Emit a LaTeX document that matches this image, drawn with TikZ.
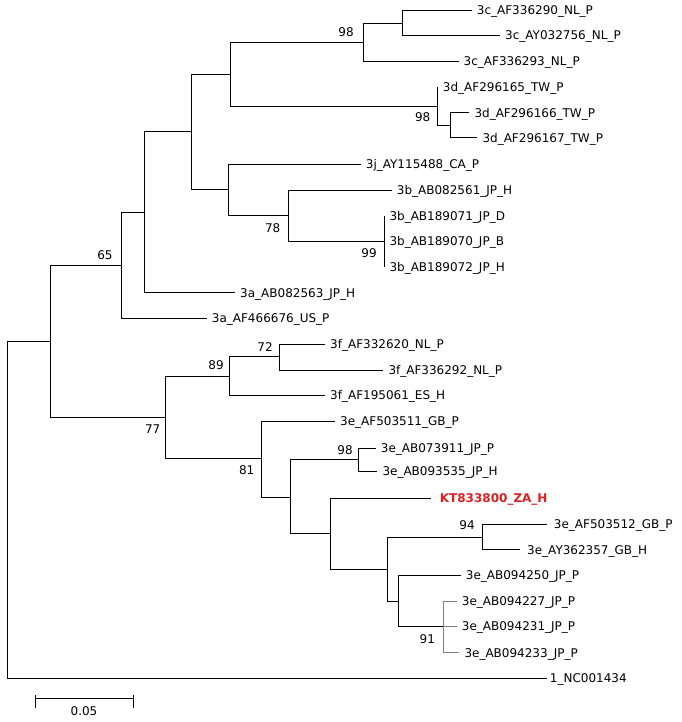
\documentclass[tikz,border=0pt]{standalone}
\usepackage{fontspec}
\setmainfont{DejaVu Sans}
\definecolor{ktred}{RGB}{222,32,36}
\begin{document}
\begin{tikzpicture}[x=1pt,y=-1pt,
  branch/.style={line width=1pt, black},
  gbranch/.style={line width=0.8pt, gray},
  leaf/.style={anchor=west, inner xsep=5pt, inner ysep=0pt, text height=8.75pt, text depth=0pt, font=\fontsize{12pt}{14pt}\selectfont},
  boot/.style={anchor=center, inner sep=0pt, text height=8.75pt, text depth=0pt, font=\fontsize{12pt}{14pt}\selectfont}]
\useasboundingbox[fill=white] (0,0) rectangle (681,722);

% leaves
\node[leaf] (L1)  at (471.7,10.5)  {3c\_AF336290\_NL\_P};
\node[leaf] (L2)  at (500,35.5)    {3c\_AY032756\_NL\_P};
\node[leaf] (L3)  at (458.5,61.3)  {3c\_AF336293\_NL\_P};
\node[leaf] (L4)  at (437.7,87)    {3d\_AF296165\_TW\_P};
\node[leaf] (L5)  at (469.3,113)   {3d\_AF296166\_TW\_P};
\node[leaf] (L6)  at (477.3,138)   {3d\_AF296167\_TW\_P};
\node[leaf] (L7)  at (360.7,164.3) {3j\_AY115488\_CA\_P};
\node[leaf] (L8)  at (391.7,190.5) {3b\_AB082561\_JP\_H};
\node[leaf] (L9)  at (384.3,215.8) {3b\_AB189071\_JP\_D};
\node[leaf] (L10) at (384.3,241.5) {3b\_AB189070\_JP\_B};
\node[leaf] (L11) at (384.3,267.3) {3b\_AB189072\_JP\_H};
\node[leaf] (L12) at (235,292.7)   {3a\_AB082563\_JP\_H};
\node[leaf] (L13) at (206.7,318)   {3a\_AF466676\_US\_P};
\node[leaf] (L14) at (325,344.3)   {3f\_AF332620\_NL\_P};
\node[leaf] (L15) at (383.3,370)   {3f\_AF336292\_NL\_P};
\node[leaf] (L16) at (325,395.3)   {3f\_AF195061\_ES\_H};
\node[leaf] (L17) at (335,421.3)   {3e\_AF503511\_GB\_P};
\node[leaf] (L18) at (375.7,448.3) {3e\_AB073911\_JP\_P};
\node[leaf] (L19) at (377.3,471)   {3e\_AB093535\_JP\_H};
\node[leaf, inner xsep=9pt, text=ktred, font=\fontsize{12pt}{14pt}\selectfont\bfseries] (L20) at (430.7,498.5) {KT833800\_ZA\_H};
\node[leaf, inner xsep=7pt] (L21) at (546.7,524.3) {3e\_AF503512\_GB\_P};
\node[leaf, inner xsep=7pt] (L22) at (520,549.7)   {3e\_AY362357\_GB\_H};
\node[leaf] (L23) at (460.7,575.3) {3e\_AB094250\_JP\_P};
\node[leaf] (L24) at (456.7,601)   {3e\_AB094227\_JP\_P};
\node[leaf] (L25) at (456.7,626.3) {3e\_AB094231\_JP\_P};
\node[leaf] (L26) at (459.3,652.7) {3e\_AB094233\_JP\_P};
\node[leaf, inner xsep=3pt] (L27) at (546.7,678.5) {1\_NC001434};

% internal nodes
\coordinate (R)    at (7.3,510);
\coordinate (ING)  at (50.3,341.3);
\coordinate (N65)  at (121.3,265.3);
\coordinate (N3)   at (144.3,212);
\coordinate (NTOP) at (191.3,131.3);
\coordinate (NCD)  at (230.3,74.3);
\coordinate (NC98) at (363.3,42.3);
\coordinate (NC2)  at (402.3,23.7);
\coordinate (ND98) at (437.7,106.3);
\coordinate (ND2)  at (450.3,125.3);
\coordinate (NJB)  at (228.3,189.5);
\coordinate (N78)  at (288.3,215.3);
\coordinate (N99)  at (384.3,241.5);
\coordinate (N77)  at (165.7,417.3);
\coordinate (N89)  at (229.7,376.3);
\coordinate (N72)  at (279.3,356.7);
\coordinate (N81)  at (261.3,458.3);
\coordinate (NX)   at (290.7,497);
\coordinate (NE98) at (358.3,459.7);
\coordinate (NY)   at (330.3,533.5);
\coordinate (NZ)   at (387.7,569.3);
\coordinate (N94)  at (482.7,537);
\coordinate (NW)   at (398.7,601);
\coordinate (N91)  at (443.7,626.8);

% branches
\draw[branch] (R) |- (ING);
\draw[branch] (R) |- (L27);
\draw[branch] (ING) |- (N65);
\draw[branch] (ING) |- (N77);
\draw[branch] (N65) |- (N3);
\draw[branch] (N65) |- (L13);
\draw[branch] (N3) |- (NTOP);
\draw[branch] (N3) |- (L12);
\draw[branch] (NTOP) |- (NCD);
\draw[branch] (NTOP) |- (NJB);
\draw[branch] (NCD) |- (NC98);
\draw[branch] (NCD) |- (ND98);
\draw[branch] (NC98) |- (NC2);
\draw[branch] (NC98) |- (L3);
\draw[branch] (NC2) |- (L1);
\draw[branch] (NC2) |- (L2);
\draw[branch] (ND98) |- (L4);
\draw[branch] (ND98) |- (ND2);
\draw[branch] (ND2) |- (L5);
\draw[branch] (ND2) |- (L6);
\draw[branch] (NJB) |- (L7);
\draw[branch] (NJB) |- (N78);
\draw[branch] (N78) |- (L8);
\draw[branch] (N78) |- (N99);
\draw[branch] (N99) |- (L9);
\draw[branch] (N99) |- (L10);
\draw[branch] (N99) |- (L11);
\draw[branch] (N77) |- (N89);
\draw[branch] (N77) |- (N81);
\draw[branch] (N89) |- (N72);
\draw[branch] (N89) |- (L16);
\draw[branch] (N72) |- (L14);
\draw[branch] (N72) |- (L15);
\draw[branch] (N81) |- (L17);
\draw[branch] (N81) |- (NX);
\draw[branch] (NX) |- (NE98);
\draw[branch] (NX) |- (NY);
\draw[branch] (NE98) |- (L18);
\draw[branch] (NE98) |- (L19);
\draw[branch] (NY) |- (L20);
\draw[branch] (NY) |- (NZ);
\draw[branch] (NZ) |- (N94);
\draw[branch] (NZ) |- (NW);
\draw[branch] (N94) |- (L21);
\draw[branch] (N94) |- (L22);
\draw[branch] (NW) |- (L23);
\draw[branch] (NW) |- (N91);
\draw[gbranch] (N91) |- (L24);
\draw[gbranch] (N91) |- (L25);
\draw[gbranch] (N91) |- (L26);

% bootstrap values
\node[boot] (B1)  at (346,32.3)    {98};
\node[boot] (B2)  at (422.7,117.3) {98};
\node[boot] (B3)  at (272.7,227.7) {78};
\node[boot] (B4)  at (369,252.7)   {99};
\node[boot] (B5)  at (105,254.7)   {65};
\node[boot] (B6)  at (265,347)     {72};
\node[boot] (B7)  at (216,365.3)   {89};
\node[boot] (B8)  at (152.7,428.7) {77};
\node[boot] (B9)  at (246.7,470.3) {81};
\node[boot] (B10) at (345,450)     {98};
\node[boot] (B11) at (467,524.7)   {94};
\node[boot] (B12) at (427.3,638.7) {91};

% scale bar
\coordinate (SA) at (35.3,698.7);
\coordinate (SB) at (133.3,698.7);
\draw[branch] (SA) -- (SB);
\draw[branch] ([yshift=-9pt]SA) -- ([yshift=4pt]SA);
\draw[branch] ([yshift=-9pt]SB) -- ([yshift=4pt]SB);
\node[boot] (SL) at (84,711.3) {0.05};
\end{tikzpicture}
\end{document}
